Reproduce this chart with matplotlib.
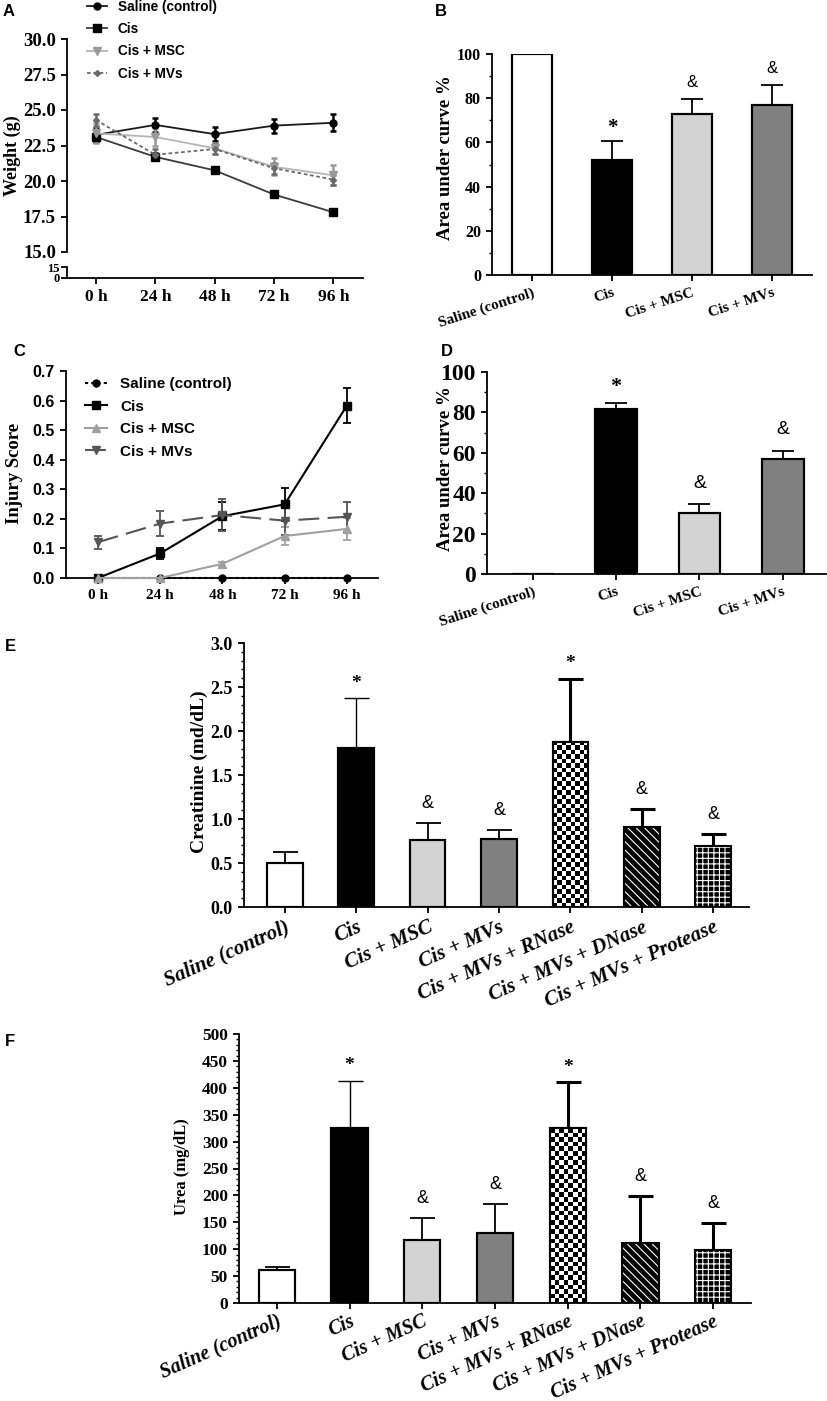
import numpy as np
import matplotlib
matplotlib.use('Agg')
from matplotlib import pyplot as plt
from matplotlib.ticker import MultipleLocator

SERIF = ['Liberation Serif', 'DejaVu Serif']
SANS = ['Liberation Sans', 'DejaVu Sans']
plt.rcParams['font.family'] = SERIF
plt.rcParams['axes.linewidth'] = 1.3
plt.rcParams['hatch.linewidth'] = 0.8

# ---------------- data ----------------
hours = [0, 24, 48, 72, 96]
hour_labels = ['0 h', '24 h', '48 h', '72 h', '96 h']
series_names = ['Saline (control)', 'Cis', 'Cis + MSC', 'Cis + MVs']
groups4 = ['Saline (control)', 'Cis', 'Cis + MSC', 'Cis + MVs']
groups7 = groups4 + ['Cis + MVs + RNase', 'Cis + MVs + DNase', 'Cis + MVs + Protease']

# A: body weight (g)
w_saline = [23.25, 23.95, 23.3, 23.9, 24.1]
w_saline_err = [0.5, 0.5, 0.47, 0.5, 0.6]
w_cis = [23.1, 21.7, 20.75, 19.05, 17.8]
w_cis_err = [0.3, 0.25, 0.2, 0.15, 0.1]
w_msc = [23.35, 23.1, 22.3, 21.0, 20.4]
w_msc_err = [0.7, 0.6, 0.4, 0.6, 0.7]
w_mvs = [24.3, 21.85, 22.25, 20.9, 20.1]
w_mvs_err = [0.4, 0.4, 0.35, 0.4, 0.35]
weight_ticks = [15.0, 17.5, 20.0, 22.5, 25.0, 27.5, 30.0]

# B: AUC of weight (%)
auc_w = [100, 52, 73, 77]
auc_w_err = [0, 8.7, 6.5, 8.8]
auc_w_marks = ['', '*', '&', '&']

# C: injury score
inj_saline = [0, 0, 0, 0, 0]
inj_saline_err = [0, 0, 0, 0, 0]
inj_cis = [0, 0.083, 0.209, 0.249, 0.583]
inj_cis_err = [0, 0.02, 0.048, 0.057, 0.06]
inj_msc = [0, 0, 0.048, 0.142, 0.166]
inj_msc_err = [0, 0, 0.007, 0.03, 0.036]
inj_mvs = [0.121, 0.184, 0.213, 0.194, 0.207]
inj_mvs_err = [0.022, 0.042, 0.053, 0.05, 0.05]
inj_ticks = [0.0, 0.1, 0.2, 0.3, 0.4, 0.5, 0.6, 0.7]

# D: AUC of injury (%)
auc_i = [0, 81.5, 30, 56.8]
auc_i_err = [0, 3, 4.7, 4.3]
auc_i_marks = ['', '*', '&', '&']
auc_ticks = [0, 20, 40, 60, 80, 100]

# E: creatinine
creat = [0.50, 1.81, 0.76, 0.775, 1.88, 0.904, 0.69]
creat_err = [0.127, 0.56, 0.197, 0.102, 0.714, 0.209, 0.145]
creat_ticks = [0.0, 0.5, 1.0, 1.5, 2.0, 2.5, 3.0]

# F: urea
urea = [62, 325, 117, 131, 325, 112, 99]
urea_err = [5, 88, 41, 53.5, 85, 87, 49]
urea_ticks = [0, 50, 100, 150, 200, 250, 300, 350, 400, 450, 500]
marks7 = ['', '*', '&', '&', '*', '&', '&']

# ---------------- styles ----------------
faces4 = ['white', 'black', '#d3d3d3', '#808080']
faces7 = faces4 + ['white', 'black', 'black']
hatch7 = [None, None, None, None, 'checker', '\\\\\\\\', '+++']
errlw7 = [1.3, 1.0, 1.3, 1.3, 2.2, 2.2, 2.2]

W, H = 827, 1401
fig = plt.figure(figsize=(W / 100, H / 100), dpi=100)


def box(l, t, r, b):
    return [l / W, 1 - b / H, (r - l) / W, (b - t) / H]


def clean(ax, bottom=True):
    ax.spines['top'].set_visible(False)
    ax.spines['right'].set_visible(False)
    if not bottom:
        ax.spines['bottom'].set_visible(False)
    ax.tick_params(direction='out', length=4.5, width=1.3)
    ax.tick_params(which='minor', direction='out', length=2.5, width=1.0)


def ylab(ax, text, size, xr, yc):
    ax.set_ylabel(text, fontsize=size, fontweight='bold', family=SERIF)
    ax.yaxis.set_label_coords(xr / W, 1 - yc / H, transform=fig.transFigure)


def letter(s, x, y):
    fig.text(x / W, 1 - y / H, s, fontsize=12, fontweight='bold', family=SANS,
             ha='center', va='center')


def checker(ax, bar, ncols=8):
    x0, y0 = bar.get_x(), bar.get_y()
    w, h = bar.get_width(), bar.get_height()
    p0 = ax.transData.transform((x0, y0))
    p1 = ax.transData.transform((x0 + w, y0 + h))
    cell = (p1[0] - p0[0]) / ncols
    nrows = max(1, int(round((p1[1] - p0[1]) / cell)))
    img = np.indices((nrows, ncols)).sum(axis=0) % 2
    im = ax.imshow(img, cmap='gray', vmin=0, vmax=1, extent=(x0, x0 + w, y0, y0 + h),
                   aspect='auto', interpolation='nearest', zorder=2.5)
    im.set_clip_path(bar)


def bar_panel(ax, vals, errs, faces, hatches, errlw, marks, mark_off, mark_size,
              star_size, cap, xlim, ylim):
    x = np.arange(len(vals))
    ax.set_xlim(*xlim)
    ax.set_ylim(*ylim)
    bars = ax.bar(x, vals, width=0.5, color=faces, edgecolor='black', lw=1.5, zorder=2)
    for i, p in enumerate(bars):
        h = hatches[i]
        if h == 'checker':
            checker(ax, p)
        elif h:
            p.set_edgecolor('white')
            p.set_hatch(h)
            p.set_linewidth(0)
    ax.bar(x, vals, width=0.5, fill=False, edgecolor='black', lw=1.5, zorder=3)
    for i in range(len(vals)):
        if errs[i] > 0:
            ax.errorbar([x[i]], [vals[i]], yerr=[[0], [errs[i]]], fmt='none',
                        ecolor='black', elinewidth=errlw[i], capsize=cap,
                        capthick=errlw[i], zorder=1)
        if marks[i] == '&':
            ax.annotate('&', (x[i], vals[i] + errs[i]), xytext=(0, mark_off),
                        textcoords='offset points', ha='center', va='center',
                        fontsize=mark_size, family=SANS)
        elif marks[i]:
            ax.annotate(marks[i], (x[i], vals[i] + errs[i]), xytext=(0, mark_off - 3),
                        textcoords='offset points', ha='center', va='center',
                        fontsize=star_size, family=SERIF, fontweight='bold')
    ax.set_xlim(*xlim)
    ax.set_ylim(*ylim)
    return x


# ---------------- A ----------------
axA = fig.add_axes(box(67, 39, 363, 252))
axA0 = fig.add_axes(box(67, 267, 363, 278), sharex=axA)
specA = [
    (w_saline, w_saline_err, dict(color='#1a1a1a', marker='o', ms=5, ls='-', mfc='black', mec='black')),
    (w_cis, w_cis_err, dict(color='#3c3c3c', marker='s', ms=5.5, ls='-', mfc='black', mec='black')),
    (w_msc, w_msc_err, dict(color='#b5b5b5', marker='v', ms=6, ls='-', mfc='#9a9a9a', mec='#9a9a9a')),
    (w_mvs, w_mvs_err, dict(color='#6a6a6a', marker='D', ms=3, ls=(0, (2, 1.5)), mfc='#6a6a6a', mec='#6a6a6a')),
]
for (y, e, st), name in zip(specA, series_names):
    axA.plot(hours, y, lw=1.3, label=name, zorder=3, **st)
    axA.errorbar(hours, y, yerr=e, fmt='none', ecolor=st['mec'], elinewidth=1.8,
                 capsize=2.5, capthick=1.8, zorder=2)
axA.set_xlim(-11.7, 108)
axA.set_ylim(15, 30)
clean(axA, bottom=False)
axA.tick_params(bottom=False, labelbottom=False)
axA.set_yticks(weight_ticks, ['%.1f' % t for t in weight_ticks], fontsize=13.5,
               fontweight='bold', family=SERIF)
axA0.set_ylim(0, 15)
clean(axA0)
axA0.set_yticks([0, 15], ['0', '15'], fontsize=9, fontweight='bold', family=SERIF)
axA0.tick_params(axis='y', pad=1)
axA0.set_xticks(hours, hour_labels, fontsize=12.5, fontweight='bold', family=SERIF)
ylab(axA, 'Weight (g)', 13, 21, 156)
hA, lA = axA.get_legend_handles_labels()
fig.legend(hA, lA, loc='upper left', bbox_to_anchor=(87 / W, 1.0), frameon=False,
           prop=dict(family=SANS, weight='bold', size=9.8), handlelength=1.47,
           handletextpad=0.8, labelspacing=0.6, borderpad=0, borderaxespad=0)
letter('A', 9, 12)

# ---------------- B ----------------
axB = fig.add_axes(box(492, 54, 812, 275))
bar_panel(axB, auc_w, auc_w_err, faces4, [None] * 4, [1.3] * 4, auc_w_marks, 12, 12, 15,
          8, (-0.5, 3.5), (0, 100))
clean(axB)
axB.set_yticks(auc_ticks, [str(t) for t in auc_ticks], fontsize=11.5, fontweight='bold', family=SERIF)
axB.yaxis.set_minor_locator(MultipleLocator(10))
axB.set_xticks(range(4), groups4, rotation=18, ha='right', rotation_mode='anchor',
               fontsize=11, fontweight='bold', family=SERIF)
ylab(axB, 'Area under curve %', 13.5, 454, 158)
letter('B', 441, 12)

# ---------------- C ----------------
axC = fig.add_axes(box(66, 371, 378, 578))
specC = [
    (inj_saline, inj_saline_err, dict(color='black', marker='o', ms=5, ls=(0, (1.5, 1.5)), mfc='black', mec='black')),
    (inj_cis, inj_cis_err, dict(color='black', marker='s', ms=5.5, ls='-', mfc='black', mec='black')),
    (inj_msc, inj_msc_err, dict(color='#a0a0a0', marker='^', ms=5.5, ls='-', mfc='#a0a0a0', mec='#a0a0a0')),
    (inj_mvs, inj_mvs_err, dict(color='#555555', marker='v', ms=5.5, ls=(0, (10, 4)), mfc='#555555', mec='#555555')),
]
for (y, e, st), name in zip(specC, series_names):
    axC.plot(hours, y, lw=1.5, label=name, zorder=3, clip_on=False, **st)
    axC.errorbar(hours, y, yerr=e, fmt='none', ecolor=st['mec'], elinewidth=1.3,
                 capsize=3, capthick=1.3, zorder=2)
axC.set_xlim(-12.3, 108)
axC.set_ylim(0, 0.7)
clean(axC)
axC.set_yticks(inj_ticks, ['%.1f' % t for t in inj_ticks], fontsize=11.5, fontweight='bold', family=SANS)
axC.set_xticks(hours, hour_labels, fontsize=11, fontweight='bold', family=SERIF)
ylab(axC, 'Injury Score', 13.5, 23, 473)
axC.legend(loc='upper left', bbox_to_anchor=(85 / W, 1 - 377 / H), bbox_transform=fig.transFigure,
           frameon=False, prop=dict(family=SANS, weight='bold', size=11), handlelength=1.45,
           handletextpad=0.85, labelspacing=0.56, borderpad=0, borderaxespad=0)
letter('C', 19, 351)

# ---------------- D ----------------
axD = fig.add_axes(box(487, 372, 826, 574))
bar_panel(axD, auc_i, auc_i_err, faces4, [None] * 4, [1.3] * 4, auc_i_marks, 15, 14, 16,
          8, (-0.55, 3.52), (0, 100))
clean(axD)
axD.set_yticks(auc_ticks, [str(t) for t in auc_ticks], fontsize=17, fontweight='bold', family=SERIF)
axD.yaxis.set_minor_locator(MultipleLocator(10))
axD.set_xticks(range(4), groups4, rotation=18, ha='right', rotation_mode='anchor',
               fontsize=11, fontweight='bold', family=SERIF)
ylab(axD, 'Area under curve %', 13.5, 454, 469)
letter('D', 447, 351)

# ---------------- E ----------------
axE = fig.add_axes(box(244, 643, 749, 907))
bar_panel(axE, creat, creat_err, faces7, hatch7, errlw7, marks7, 14, 13, 14,
          9, (-0.57, 6.5), (0, 3.0))
clean(axE)
axE.set_yticks(creat_ticks, ['%.1f' % t for t in creat_ticks], fontsize=13, fontweight='bold', family=SERIF)
axE.yaxis.set_minor_locator(MultipleLocator(0.1))
axE.set_xticks(range(7), groups7, rotation=24, ha='right', rotation_mode='anchor',
               fontsize=15, fontweight='bold', fontstyle='italic', family=SERIF)
axE.tick_params(axis='x', pad=3)
ylab(axE, 'Creatinine (md/dL)', 14, 208, 772)
letter('E', 10, 646)

# ---------------- F ----------------
axF = fig.add_axes(box(239, 1034, 751, 1303))
bar_panel(axF, urea, urea_err, faces7, hatch7, errlw7, marks7, 14, 13, 14,
          9, (-0.52, 6.52), (0, 500))
clean(axF)
axF.set_yticks(urea_ticks, [str(t) for t in urea_ticks], fontsize=12.5, fontweight='bold', family=SERIF)
axF.yaxis.set_minor_locator(MultipleLocator(10))
axF.set_xticks(range(7), groups7, rotation=24, ha='right', rotation_mode='anchor',
               fontsize=14.5, fontweight='bold', fontstyle='italic', family=SERIF)
axF.tick_params(axis='x', pad=1.5)
ylab(axF, 'Urea (mg/dL)', 12, 190, 1167)
letter('F', 10, 1041)

fig.savefig('out.png', dpi=100)
